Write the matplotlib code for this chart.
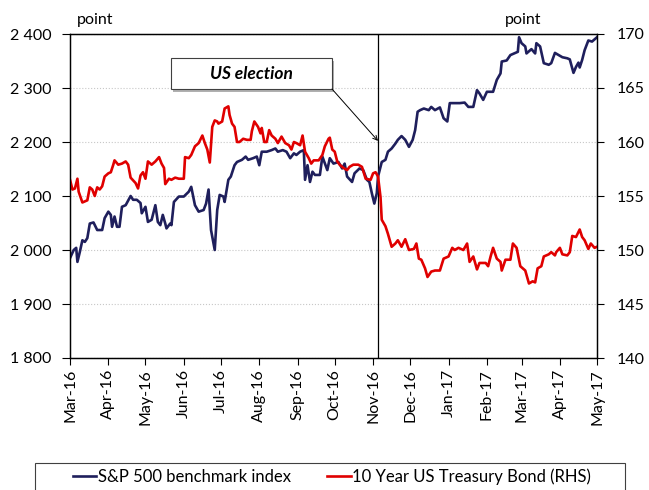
import matplotlib
matplotlib.use('Agg')
import matplotlib.pyplot as plt
import matplotlib.dates as mdates
import matplotlib.ticker as mticker
from matplotlib.patches import Rectangle
import pandas as pd

plt.rcParams['font.family'] = ['Lato', 'DejaVu Sans']

# days counted from 1 March 2016
start = pd.Timestamp('2016-03-01')
spx_days = [0, 3, 5, 6, 8, 10, 12, 14, 16, 19, 22, 26, 28, 31, 33, 34, 36, 38, 40, 42,
            45, 49, 51, 54, 57, 58, 61, 63, 66, 69, 71, 73, 75, 77, 78, 81, 82, 84, 88, 92,
            96, 98, 101, 104, 108, 110, 112, 114, 117, 119, 121, 124, 125, 128, 130, 133, 135, 139, 142, 144,
            148, 151, 153, 155, 159, 163, 166, 168, 172, 175, 178, 181, 183, 186, 189, 190, 192, 194, 196, 198,
            202, 204, 208, 210, 213, 217, 220, 222, 224, 228, 230, 234, 237, 240, 242, 244, 246, 248, 249, 252,
            255, 257, 260, 263, 265, 268, 271, 274, 277, 279, 281, 283, 286, 290, 292, 295, 299, 302, 305, 307,
            311, 315, 319, 322, 326, 329, 331, 334, 337, 342, 345, 348, 349, 353, 356, 359, 362, 363, 365, 368,
            369, 373, 376, 377, 380, 383, 387, 389, 392, 395, 398, 402, 404, 407, 409, 411, 412, 414, 416, 419,
            422, 424, 426]
spx_vals = [1985, 2000, 2004, 1978, 1997, 2018, 2015, 2022, 2049, 2051, 2037, 2037, 2059, 2071, 2065, 2043, 2062, 2043, 2043, 2080,
            2083, 2100, 2093, 2093, 2087, 2068, 2080, 2052, 2056, 2083, 2052, 2046, 2065, 2049, 2040, 2049, 2046, 2089, 2099, 2099,
            2108, 2117, 2083, 2071, 2074, 2086, 2112, 2037, 2000, 2074, 2102, 2099, 2089, 2130, 2136, 2157, 2163, 2167, 2173, 2167,
            2170, 2173, 2157, 2182, 2182, 2185, 2188, 2182, 2185, 2182, 2170, 2179, 2176, 2182, 2185, 2130, 2157, 2126, 2145, 2139,
            2139, 2173, 2148, 2170, 2160, 2163, 2151, 2160, 2136, 2126, 2142, 2151, 2148, 2130, 2126, 2105, 2086, 2105, 2136, 2163,
            2167, 2182, 2188, 2197, 2204, 2211, 2204, 2191, 2204, 2222, 2256, 2259, 2262, 2259, 2265, 2259, 2264, 2244, 2238, 2272,
            2272, 2272, 2273, 2265, 2265, 2296, 2290, 2278, 2293, 2293, 2315, 2327, 2349, 2351, 2361, 2364, 2367, 2394, 2383, 2377,
            2364, 2372, 2364, 2383, 2377, 2346, 2343, 2346, 2365, 2361, 2357, 2355, 2353, 2328, 2339, 2347, 2338, 2352, 2370, 2388,
            2386, 2390, 2394]

bond_days = [0, 2, 4, 6, 7, 10, 14, 16, 18, 20, 22, 24, 26, 28, 31, 33, 35, 36, 39, 42,
             45, 47, 49, 53, 55, 57, 59, 61, 63, 66, 69, 72, 74, 76, 77, 80, 82, 85, 88, 92,
             93, 96, 98, 101, 104, 107, 109, 111, 113, 115, 117, 119, 120, 123, 125, 128, 129, 131, 133, 135,
             137, 140, 143, 146, 147, 149, 152, 154, 155, 157, 159, 161, 163, 166, 168, 171, 174, 177, 179, 181,
             183, 186, 188, 190, 193, 195, 197, 201, 204, 206, 209, 210, 212, 214, 216, 218, 221, 224, 226, 229,
             233, 236, 239, 243, 245, 247, 249, 251, 252, 255, 257, 260, 263, 265, 268, 271, 274, 278, 280, 282,
             284, 287, 289, 292, 295, 299, 302, 306, 309, 311, 314, 318, 321, 323, 326, 329, 331, 336, 338, 340,
             342, 345, 348, 349, 352, 356, 358, 361, 364, 368, 371, 374, 376, 378, 381, 383, 387, 389, 392, 393,
             396, 398, 402, 404, 406, 409, 412, 414, 416, 419, 421, 424, 426]
bond_vals = [156.5, 155.6, 155.7, 156.6, 155.4, 154.4, 154.6, 155.8, 155.6, 155.0, 155.8, 155.6, 155.9, 156.8, 157.1, 157.2, 157.9, 158.3, 157.9, 158.0,
             158.2, 157.9, 156.7, 156.2, 155.7, 156.9, 157.2, 156.6, 158.2, 157.9, 158.2, 158.6, 158.0, 157.6, 156.1, 156.6, 156.5, 156.7, 156.6, 156.6,
             158.6, 158.5, 158.8, 159.6, 159.9, 160.6, 159.9, 159.3, 158.1, 161.4, 162.0, 161.9, 161.7, 161.9, 163.1, 163.3, 162.5, 161.7, 161.4, 160.0,
             160.0, 160.3, 160.2, 160.2, 161.0, 161.9, 161.4, 160.8, 161.3, 160.0, 160.0, 161.1, 160.6, 160.3, 159.9, 160.5, 159.9, 159.7, 159.3, 160.0,
             159.9, 159.7, 160.6, 159.1, 158.5, 158.0, 158.3, 158.3, 158.8, 159.6, 160.3, 160.4, 159.3, 159.1, 158.2, 157.9, 157.6, 157.4, 157.7, 157.9,
             157.9, 157.7, 156.6, 156.5, 157.1, 157.2, 156.8, 154.9, 152.8, 152.2, 151.5, 150.3, 150.6, 150.9, 150.3, 151.0, 150.0, 150.1, 150.6, 149.2,
             149.1, 148.3, 147.5, 148.0, 148.1, 148.1, 149.2, 149.4, 150.2, 150.0, 150.2, 150.0, 150.6, 148.9, 149.4, 148.2, 148.8, 148.8, 148.5, 149.4,
             150.2, 149.2, 148.9, 148.1, 149.1, 149.1, 150.6, 150.2, 148.5, 148.1, 146.9, 147.1, 147.0, 148.3, 148.5, 149.4, 149.6, 149.8, 149.5, 149.8,
             150.2, 149.6, 149.5, 149.8, 151.3, 151.2, 151.9, 151.2, 150.9, 150.1, 150.6, 150.2, 150.3]

election_date = pd.Timestamp('2016-11-05')
left_ticks = [1800, 1900, 2000, 2100, 2200, 2300, 2400]
right_ticks = [140, 145, 150, 155, 160, 165, 170]

spx_dates = start + pd.to_timedelta(spx_days, unit='D')
bond_dates = start + pd.to_timedelta(bond_days, unit='D')

navy = '#1f1f5c'
red = '#e00000'

fig = plt.figure(figsize=(6.49, 4.9), dpi=100)
ax1 = fig.add_axes([70 / 649, 1 - 358 / 490, 527 / 649, 324 / 490])
ax2 = ax1.twinx()

l1, = ax1.plot(spx_dates, spx_vals, color=navy, lw=1.9, label='S&P 500 benchmark index')
l2, = ax2.plot(bond_dates, bond_vals, color=red, lw=1.9, label='10 Year US Treasury Bond (RHS)')

ax1.set_xlim(pd.Timestamp('2016-03-01'), pd.Timestamp('2017-05-01'))
ax1.set_ylim(1800, 2400)
ax2.set_ylim(140, 170)
ax1.set_yticks(left_ticks)
ax2.set_yticks(right_ticks)
ax1.yaxis.set_major_formatter(mticker.FuncFormatter(lambda v, p: f'{int(v):,}'.replace(',', ' ')))
ax1.xaxis.set_major_locator(mdates.MonthLocator())
ax1.xaxis.set_major_formatter(mdates.DateFormatter('%b-%y'))
for lab in ax1.get_xticklabels():
    lab.set_rotation(90)

ax1.grid(axis='y', color='#c8c8c8', linestyle=':', linewidth=0.8)
ax1.set_axisbelow(True)
for a in (ax1, ax2):
    a.tick_params(labelsize=11.5, length=5, width=0.8, direction='out', color='black')
    for s in a.spines.values():
        s.set_color('black')
        s.set_linewidth(0.9)
ax1.tick_params(axis='y', length=6, pad=7.5)
ax1.tick_params(axis='x', pad=3)
ax2.tick_params(axis='y', pad=9)

# election marker
ax1.axvline(election_date, color='black', lw=0.9, zorder=1)
ax1.add_patch(Rectangle((101 / 527 + 0.003, 269 / 324 - 0.008), 161 / 527, 31 / 324,
                        transform=ax1.transAxes, facecolor='#b0b0b0', edgecolor='none',
                        zorder=4, clip_on=False))
ax1.add_patch(Rectangle((101 / 527, 269 / 324), 161 / 527, 31 / 324,
                        transform=ax1.transAxes, facecolor='white', edgecolor='#404040',
                        lw=0.8, zorder=5, clip_on=False))
ax1.text((101 + 80.5) / 527, (269 + 15.5) / 324, 'US election', transform=ax1.transAxes,
         ha='center', va='center', fontsize=12.5, fontweight='bold', fontstyle='italic',
         zorder=6)
ax1.annotate('', xy=(election_date, 2202), xycoords='data',
             xytext=(262 / 527, 269 / 324), textcoords='axes fraction',
             arrowprops=dict(arrowstyle='->', color='black', lw=0.7,
                             shrinkA=0, shrinkB=0, mutation_scale=8),
             zorder=6)

fig.text(77 / 649, 1 - 20 / 490, 'point', fontsize=11.5, va='center', ha='left')
fig.text(505 / 649, 1 - 20 / 490, 'point', fontsize=11.5, va='center', ha='left')

# legend box runs off the bottom edge as in the original
fig.patches.append(Rectangle((35 / 649, -0.05), 590 / 649, 0.05 + 27 / 490,
                             transform=fig.transFigure, facecolor='white',
                             edgecolor='#404040', lw=0.8))
fig.legend(handles=[l1, l2], loc='center', ncol=2,
           bbox_to_anchor=(332 / 649, 1 - 477 / 490),
           fontsize=12, frameon=False,
           handlelength=1.4, handletextpad=0.1, columnspacing=2.2,
           borderpad=0, borderaxespad=0)

fig.savefig('out.png', dpi=100)
